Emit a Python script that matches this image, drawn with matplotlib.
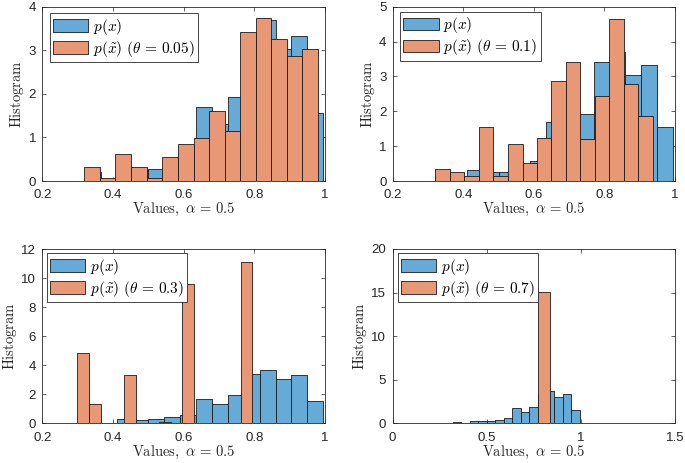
import numpy as np
import matplotlib
matplotlib.use("Agg")
import matplotlib.pyplot as plt

plt.rcParams['mathtext.fontset'] = 'cm'
plt.rcParams['font.family'] = ['Liberation Sans', 'DejaVu Sans']

# ---- data ----
# p(x): same histogram in all panels
blue_edges = [0.320, 0.365, 0.410, 0.455, 0.500, 0.545, 0.590, 0.635, 0.680,
              0.725, 0.770, 0.815, 0.860, 0.905, 0.950, 0.995]
blue_heights = [0.20, 0.00, 0.32, 0.25, 0.27, 0.40, 0.56, 1.70, 1.30,
                1.92, 3.40, 3.70, 3.03, 3.32, 1.55]

# p(x~), theta = 0.05
o1_edges = [0.319, 0.363, 0.407, 0.451, 0.495, 0.540, 0.584, 0.628, 0.672,
            0.716, 0.760, 0.804, 0.848, 0.892, 0.936, 0.981]
o1_heights = [0.31, 0.08, 0.62, 0.31, 0.08, 0.54, 0.84, 0.99, 1.60,
              1.14, 3.43, 3.73, 3.27, 2.88, 3.04]

# p(x~), theta = 0.1
o2_edges = [0.321, 0.362, 0.403, 0.444, 0.485, 0.527, 0.568, 0.609, 0.650,
            0.691, 0.732, 0.773, 0.814, 0.855, 0.896, 0.938]
o2_heights = [0.33, 0.25, 0.15, 1.56, 0.15, 1.06, 0.51, 1.22, 2.87,
              3.42, 1.21, 2.45, 4.66, 2.77, 1.87]

# p(x~), theta = 0.3
o3_edges = [0.299, 0.332, 0.365, 0.398, 0.431, 0.464, 0.497, 0.530, 0.563,
            0.596, 0.629, 0.662, 0.695, 0.728, 0.761, 0.794]
o3_heights = [4.82, 1.31, 0.0, 0.0, 3.30, 0.0, 0.0, 0.07, 0.0,
              9.59, 0.0, 0.0, 0.0, 0.0, 11.13]

# p(x~), theta = 0.7
o4_edges = [0.771, 0.837]
o4_heights = [15.03]

thetas = ['0.05', '0.1', '0.3', '0.7']
x_limits = [(0.2, 1.0), (0.2, 1.0), (0.2, 1.0), (0.0, 1.5)]
y_limits = [(0, 4), (0, 5), (0, 12), (0, 20)]
x_ticks = [[0.2, 0.4, 0.6, 0.8, 1.0]] * 3 + [[0, 0.5, 1.0, 1.5]]
x_ticklabels = [['0.2', '0.4', '0.6', '0.8', '1']] * 3 + [['0', '0.5', '1', '1.5']]
y_ticks = [[0, 1, 2, 3, 4], [0, 1, 2, 3, 4, 5], [0, 2, 4, 6, 8, 10, 12], [0, 5, 10, 15, 20]]

orange_sets = [(o1_edges, o1_heights), (o2_edges, o2_heights),
               (o3_edges, o3_heights), (o4_edges, o4_heights)]

# ---- layout ----
W, H = 685, 463
fig = plt.figure(figsize=(W / 100, H / 100), dpi=100)
axes_px = [(42.3, 6.7, 282.7, 174.3), (392.8, 6.7, 282.0, 174.3),
           (42.3, 249.0, 282.7, 174.3), (392.5, 249.0, 282.5, 174.3)]
legend_anchor = [(0.027, 0.962), (0.026, 0.971), (0.016, 0.975), (0.018, 0.975)]

BLUE = '#66AAD7'
ORANGE = '#E89875'
AX_COL = '#262626'

for i in range(4):
    l, t, w, h = axes_px[i]
    ax = fig.add_axes([l / W, 1 - (t + h) / H, w / W, h / H])
    be = np.array(blue_edges)
    ax.bar(be[:-1], blue_heights, width=np.diff(be), align='edge',
           color=BLUE, edgecolor='#1a1a1a', linewidth=0.6, zorder=2,
           label=r'$p(x)$')
    oe = np.array(orange_sets[i][0])
    ax.bar(oe[:-1], orange_sets[i][1], width=np.diff(oe), align='edge',
           color=ORANGE, edgecolor='#1a1a1a', linewidth=0.6, zorder=3,
           label=r'$p(\tilde{x})\ (\theta\,=\,%s)$' % thetas[i])
    ax.set_xlim(*x_limits[i])
    ax.set_ylim(*y_limits[i])
    ax.set_xticks(x_ticks[i])
    ax.set_xticklabels(x_ticklabels[i])
    ax.set_yticks(y_ticks[i])
    ax.tick_params(direction='in', top=True, right=True, length=3,
                   width=0.5, colors=AX_COL, labelsize=9.5)
    ax.tick_params(axis='x', pad=6)
    ax.tick_params(axis='y', pad=4.5)
    for s in ax.spines.values():
        s.set_color(AX_COL)
        s.set_linewidth(0.6)
        s.set_zorder(5)
    ax.set_xlabel(r'$\mathrm{Values,}\ \alpha\,=\,0.5$', fontsize=10.5,
                  color=AX_COL, labelpad=0)
    ax.set_ylabel(r'$\mathrm{Histogram}$', fontsize=10.5, color=AX_COL,
                  labelpad=1.5)
    leg = ax.legend(loc='upper left', bbox_to_anchor=legend_anchor[i],
                    borderaxespad=0, fontsize=11, frameon=True,
                    fancybox=False, framealpha=1, edgecolor=AX_COL,
                    handlelength=2.3, handleheight=0.9, handletextpad=0.3,
                    labelspacing=0.15, borderpad=0.22)
    leg.get_frame().set_linewidth(0.6)
    leg.set_zorder(10)

fig.savefig('out.png', dpi=100)
